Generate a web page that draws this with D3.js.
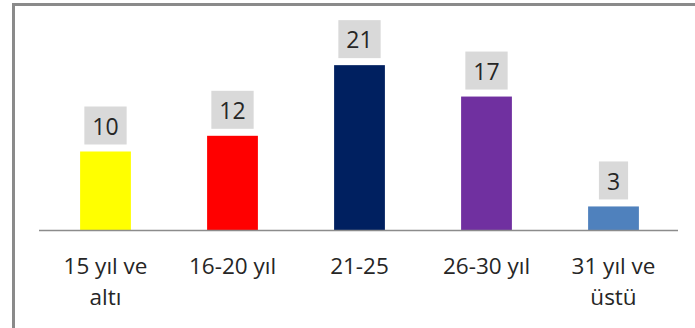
<!DOCTYPE html>
<html>
<head>
<meta charset="utf-8">
<script src="https://cdn.jsdelivr.net/npm/d3@7"></script>
<style>
  html, body { margin: 0; padding: 0; background: #fff; }
  svg { display: block; }
</style>
</head>
<body>
<svg id="chart" width="695" height="328"></svg>
<script>
const categories = [["15 yıl ve", "altı"], ["16-20 yıl"], ["21-25"], ["26-30 yıl"], ["31 yıl ve", "üstü"]];
const values = [10, 12, 21, 17, 3];
const colors = ["#FFFF00", "#FF0000", "#002060", "#7030A0", "#4F81BD"];

const svg = d3.select("#chart");
const font = "'Open Sans', sans-serif";

// outer chart border (extends past right/bottom of the picture)
svg.append("rect")
  .attr("x", 13.5).attr("y", 4.5)
  .attr("width", 720).attr("height", 360)
  .attr("fill", "none").attr("stroke", "#8a8a8a").attr("stroke-width", 3);

const baseline = 230;
const x = d3.scaleBand()
  .domain(d3.range(values.length))
  .range([42, 677])
  .paddingInner(0.6)
  .paddingOuter(0.3);
const y = d3.scaleLinear().domain([0, 25]).range([baseline, 33.75]);

// bars
svg.selectAll("rect.bar")
  .data(values)
  .join("rect")
  .attr("class", "bar")
  .attr("x", (d, i) => x(i))
  .attr("width", x.bandwidth())
  .attr("y", d => y(d))
  .attr("height", d => y(0) - y(d))
  .attr("fill", (d, i) => colors[i]);

// axis line
const axis = d3.axisBottom(x).tickSize(0).tickFormat("");
const ag = svg.append("g").attr("transform", `translate(0,${baseline})`).call(axis);
ag.select(".domain").attr("stroke", "#8c8c8c").attr("stroke-width", 1.5)
  .attr("d", "M39,0.5H678");

// value labels with grey boxes
const lg = svg.selectAll("g.lbl").data(values).join("g").attr("class", "lbl");
lg.each(function (d, i) {
  const g = d3.select(this);
  const cx = x(i) + x.bandwidth() / 2;
  const t = g.append("text")
    .attr("x", cx)
    .attr("text-anchor", "middle")
    .attr("font-family", font)
    .attr("font-size", 23)
    .attr("fill", "#262626")
    .text(d);
  const bw = t.node().getComputedTextLength() + 16;
  const bh = 38;
  const by = y(d) - 7 - bh;
  g.insert("rect", "text")
    .attr("x", cx - bw / 2).attr("y", by)
    .attr("width", bw).attr("height", bh)
    .attr("fill", "#D9D9D9");
  t.attr("y", by + bh / 2 + 1).attr("dy", "0.36em");
});

// category labels
const cg = svg.selectAll("text.cat").data(categories).join("text")
  .attr("class", "cat")
  .attr("text-anchor", "middle")
  .attr("font-family", font)
  .attr("font-size", 22.5)
  .attr("fill", "#262626");
cg.each(function (lines, i) {
  const t = d3.select(this);
  const cx = x(i) + x.bandwidth() / 2;
  lines.forEach((ln, j) => {
    t.append("tspan").attr("x", cx).attr("y", 274 + j * 31).text(ln);
  });
});
</script>
</body>
</html>
